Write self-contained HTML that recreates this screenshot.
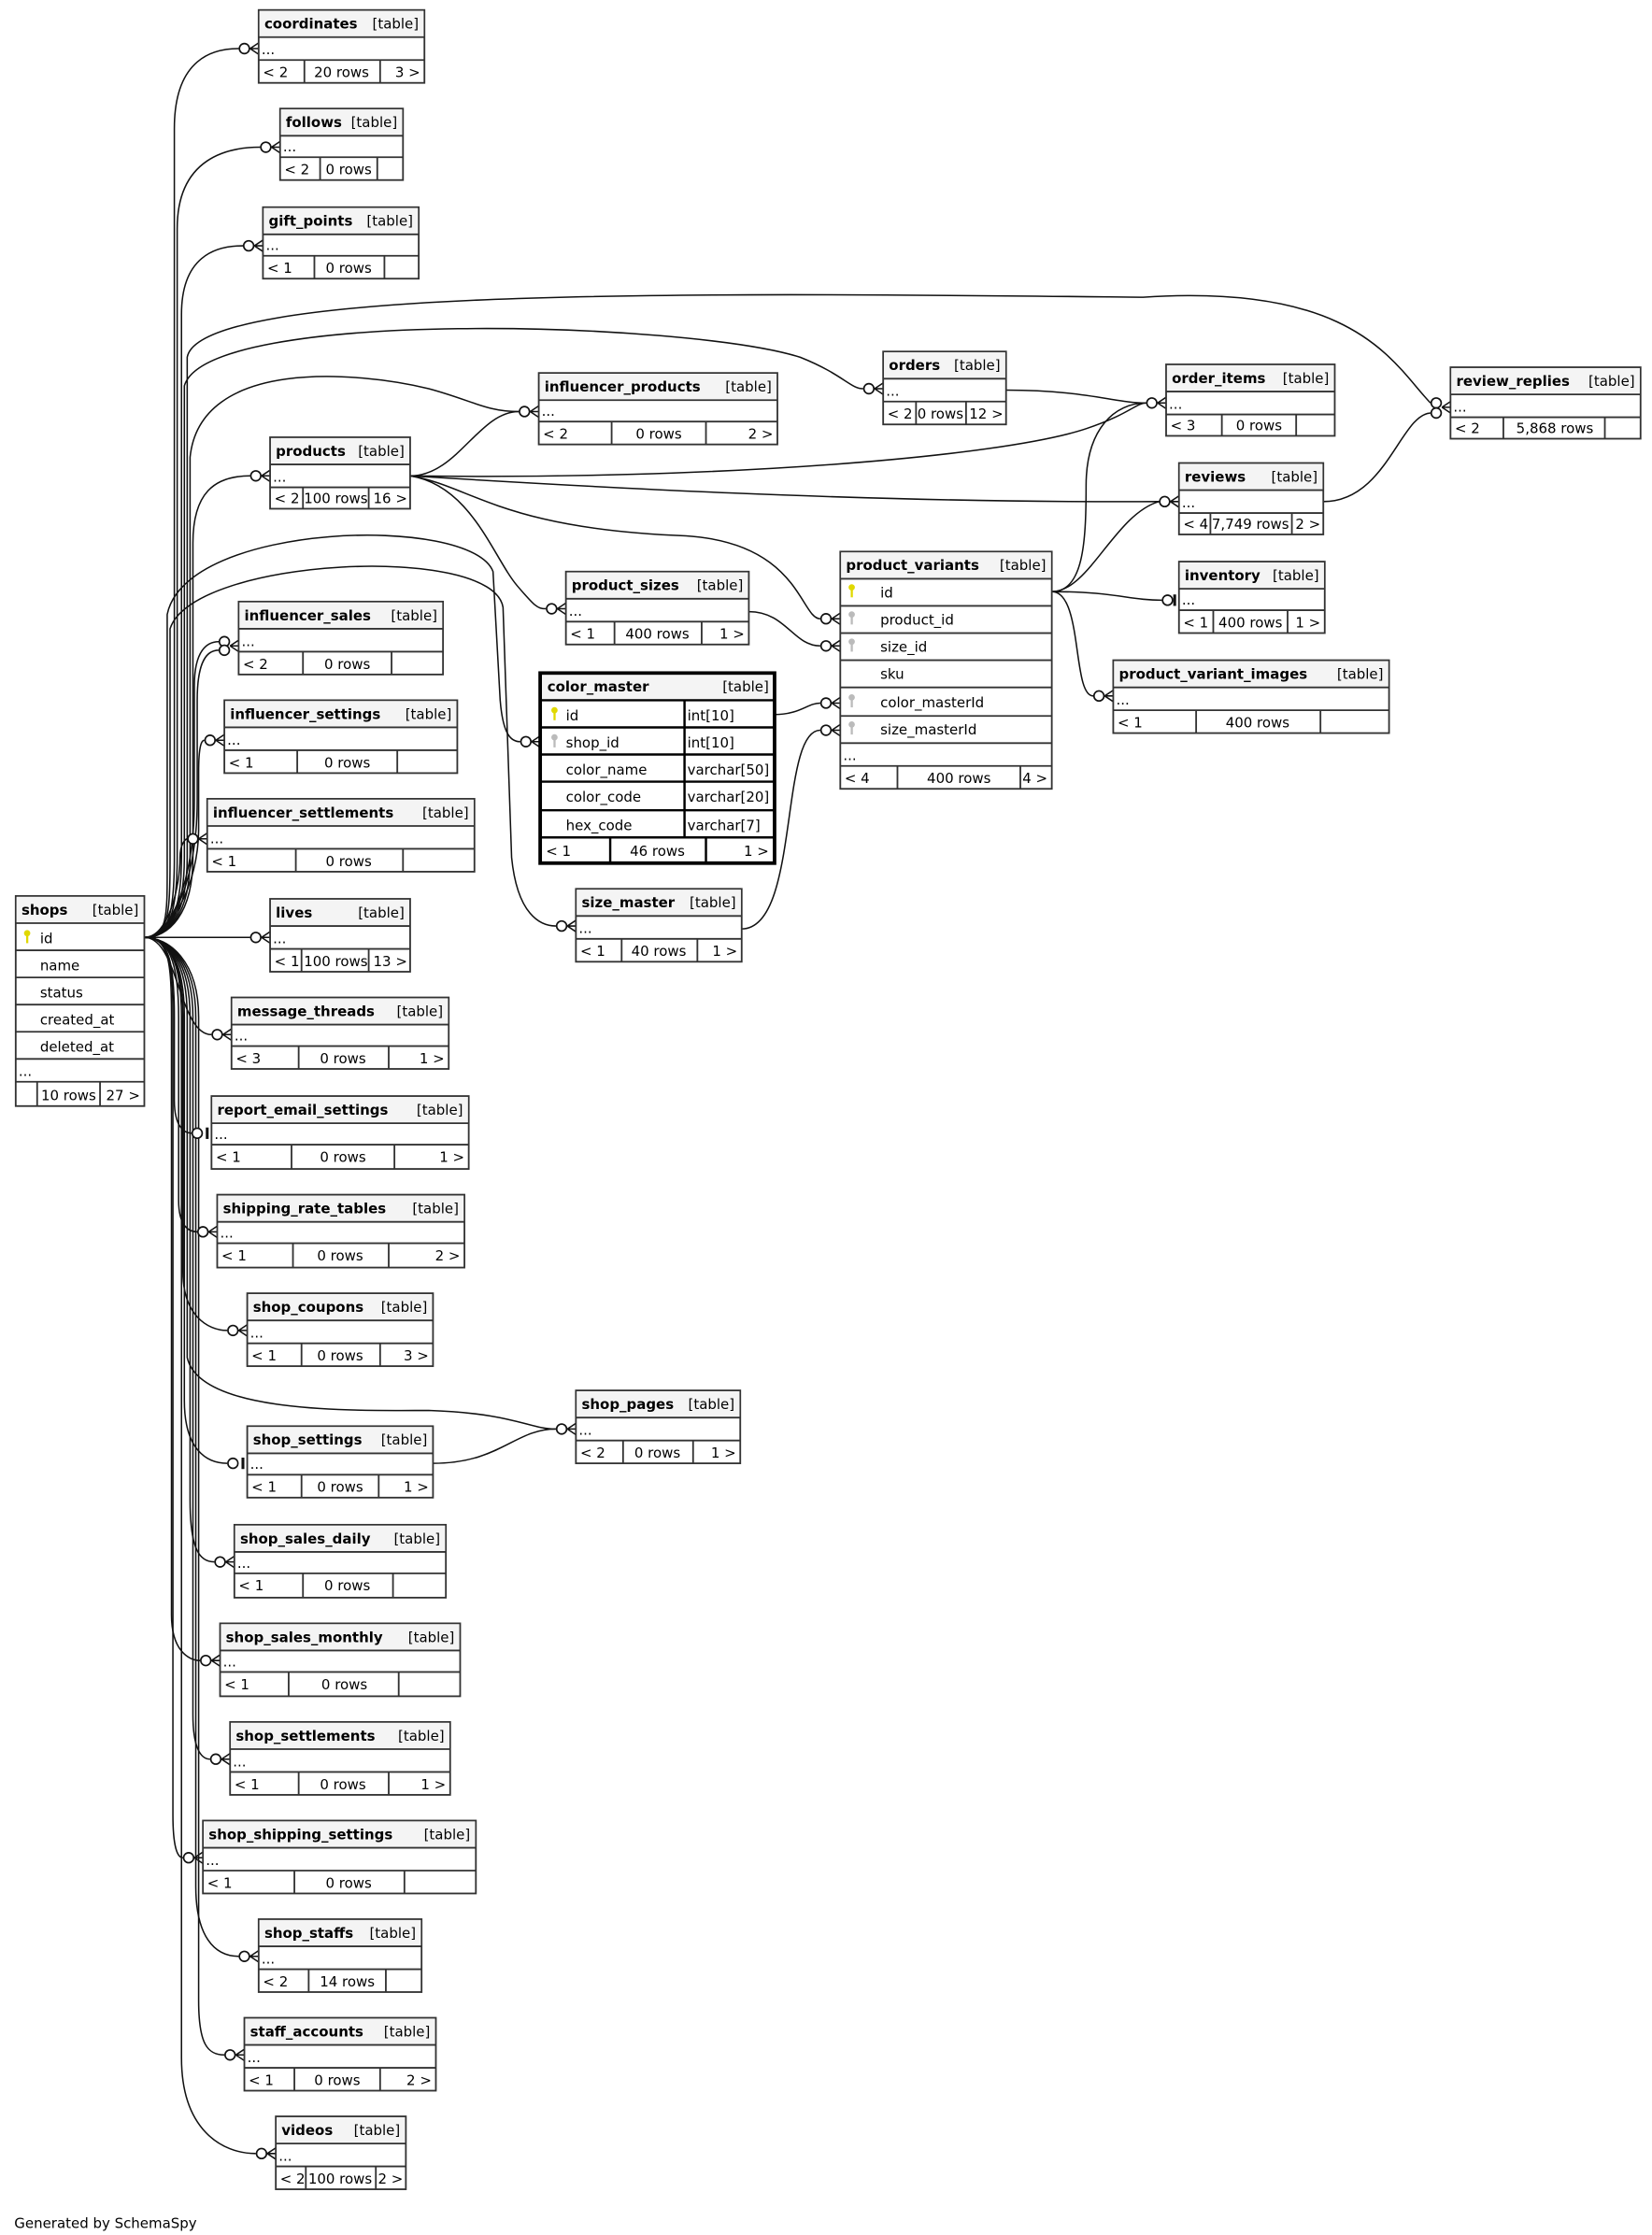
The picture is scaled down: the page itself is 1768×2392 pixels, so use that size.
<!DOCTYPE html>
<html><head><meta charset="utf-8"><style>
html,body{margin:0;padding:0;background:#fff;}
svg{display:block;}
text{font-family:"DejaVu Sans","Liberation Sans",sans-serif;font-size:9.8px;fill:#000;}
.h{font-weight:bold;}
.t{text-anchor:end;}
.m{text-anchor:middle;}
.b{fill:#fff;stroke:#333;stroke-width:1.2;}
.hd{fill:#f4f4f4;stroke:none;}
.l{stroke:#333;stroke-width:1.2;}
.e{fill:none;stroke:#111;stroke-width:1;}
.c{fill:#fff;stroke:#111;stroke-width:1.1;}
</style></head><body>
<svg width="1768" height="2392" viewBox="0 0 1156 1564" xmlns="http://www.w3.org/2000/svg">
<rect width="1156" height="1564" fill="#fff"/>
<g>
<path class="e" d="M101,656 C118,656 122,640 122,600 L122,90 C122,40 150,34 167,34"/>
<path class="e" d="M101,656 C118,656 124,640 124,600 L124,160 C124,110 160,103 182,103"/>
<path class="e" d="M101,656 C118,656 127,640 127,600 L127,220 C127,180 150,172 170,172"/>
<path class="e" d="M101,656 C118,656 131,640 131,600 L131,250 C140,200 500,205 800,208 C950,198 975,255 1001,282"/>
<path class="e" d="M101,656 C118,656 129,640 129,600 L129,270 C145,215 480,225 560,250 C590,262 595,272 604,272"/>
<path class="e" d="M101,656 C118,656 133,640 133,600 L133,320 C140,250 250,260 300,272 C330,280 340,288 363,288"/>
<path class="e" d="M101,656 C118,656 135,640 135,600 L135,380 C135,345 150,333 175,333"/>
<path class="e" d="M101,656 C118,656 117,640 117,600 L117,430 C130,365 330,360 345,400 L350,490 C352,515 358,519 364,519"/>
<path class="e" d="M101,656 C118,656 119,640 119,600 L119,440 C135,390 345,380 352,425 L358,600 C362,640 378,648 389,648"/>
<path class="e" d="M101,656 C118,656 136,620 136,560 L136,480 C136,455 145,449 153,449"/>
<path class="e" d="M101,656 C118,656 138,620 138,560 L138,490 C138,462 145,455 153,455"/>
<path class="e" d="M101,656 C118,656 139,620 139,580 L139,540 C139,522 141,518 143,518"/>
<path class="e" d="M101,656 C118,656 126,620 126,600 C126,590 130,587 131,587"/>
<path class="e" d="M101,656 L175,656"/>
<path class="e" d="M101,656 C125,656 125,724 148,724"/>
<path class="e" d="M101,656 C118,656 122,672 122,712 L122,770 C122,790 130,793 134,793"/>
<path class="e" d="M101,656 C118,656 125,672 125,712 L125,840 C125,858 132,862 138,862"/>
<path class="e" d="M101,656 C118,656 128,672 128,712 L128,890 C128,920 145,931 159,931"/>
<path class="e" d="M101,656 C118,656 131,672 131,712 L131,950 C140,990 250,987 300,987 C360,989 370,1000 389,1000"/>
<path class="e" d="M101,656 C118,656 129,672 129,712 L129,980 C129,1015 145,1024 159,1024"/>
<path class="e" d="M101,656 C118,656 133,672 133,712 L133,1050 C133,1085 140,1093 150,1093"/>
<path class="e" d="M101,656 C118,656 120,672 120,712 L120,1130 C120,1155 132,1162 140,1162"/>
<path class="e" d="M101,656 C118,656 135,672 135,712 L135,1200 C135,1222 140,1231 147,1231"/>
<path class="e" d="M101,656 C118,656 121,672 121,712 L121,1270 C121,1292 124,1300 128,1300"/>
<path class="e" d="M101,656 C118,656 137,672 137,712 L137,1320 C137,1355 150,1369 167,1369"/>
<path class="e" d="M101,656 C118,656 139,672 139,712 L139,1400 C139,1430 145,1438 157,1438"/>
<path class="e" d="M101,656 C118,656 127,672 127,712 L127,1440 C127,1490 155,1507 179,1507"/>
<path class="e" d="M287,333 C320,333 335,288 363,288"/>
<path class="e" d="M287,333 C500,336 700,320 760,300 C790,290 795,282 802,282"/>
<path class="e" d="M287,333 C400,340 600,352 811,351"/>
<path class="e" d="M287,333 C330,340 350,370 480,375 C560,380 560,433 574,433"/>
<path class="e" d="M287,333 C330,340 345,390 362,410 C374,424 376,426 382,426"/>
<path class="e" d="M524,428 C550,428 555,452 574,452"/>
<path class="e" d="M542,500 C560,500 565,492 574,492"/>
<path class="e" d="M519,650 C560,650 545,511 574,511"/>
<path class="e" d="M704,273 C760,273 780,282 802,282"/>
<path class="e" d="M736,414 C758,414 760,380 760,340 C760,300 780,282 802,282"/>
<path class="e" d="M736,414 C762,414 780,360 811,351"/>
<path class="e" d="M736,414 C780,414 790,420 813,420"/>
<path class="e" d="M736,414 C758,414 750,487 765,487"/>
<path class="e" d="M926,351 C970,351 980,290 1001,289"/>
<path class="e" d="M303,1024 C350,1024 360,1000 389,1000"/>
</g>
<g>
<circle class="c" cx="171" cy="34" r="3.5"/><path class="e" d="M175,34 L181,30 M175,34 L181,34 M175,34 L181,38"/>
<circle class="c" cx="186" cy="103" r="3.5"/><path class="e" d="M190,103 L196,99 M190,103 L196,103 M190,103 L196,107"/>
<circle class="c" cx="174" cy="172" r="3.5"/><path class="e" d="M178,172 L184,168 M178,172 L184,172 M178,172 L184,176"/>
<circle class="c" cx="608" cy="272" r="3.5"/><path class="e" d="M612,272 L618,268 M612,272 L618,272 M612,272 L618,276"/>
<circle class="c" cx="806" cy="282" r="3.5"/><path class="e" d="M810,282 L816,278 M810,282 L816,282 M810,282 L816,286"/>
<circle class="c" cx="1005" cy="282" r="3.5"/><circle class="c" cx="1005" cy="289" r="3.5"/><path class="e" d="M1009,285 L1015,281 M1009,285 L1015,285 M1009,285 L1015,289"/>
<circle class="c" cx="367" cy="288" r="3.5"/><path class="e" d="M371,288 L377,284 M371,288 L377,288 M371,288 L377,292"/>
<circle class="c" cx="179" cy="333" r="3.5"/><path class="e" d="M183,333 L189,329 M183,333 L189,333 M183,333 L189,337"/>
<circle class="c" cx="815" cy="351" r="3.5"/><path class="e" d="M819,351 L825,347 M819,351 L825,351 M819,351 L825,355"/>
<circle class="c" cx="578" cy="433" r="3.5"/><path class="e" d="M582,433 L588,429 M582,433 L588,433 M582,433 L588,437"/>
<circle class="c" cx="578" cy="452" r="3.5"/><path class="e" d="M582,452 L588,448 M582,452 L588,452 M582,452 L588,456"/>
<circle class="c" cx="578" cy="492" r="3.5"/><path class="e" d="M582,492 L588,488 M582,492 L588,492 M582,492 L588,496"/>
<circle class="c" cx="578" cy="511" r="3.5"/><path class="e" d="M582,511 L588,507 M582,511 L588,511 M582,511 L588,515"/>
<circle class="c" cx="386" cy="426" r="3.5"/><path class="e" d="M390,426 L396,422 M390,426 L396,426 M390,426 L396,430"/>
<circle class="c" cx="817" cy="420" r="3.5"/><path class="e" d="M822,416 L822,424" style="stroke-width:2"/>
<circle class="c" cx="769" cy="487" r="3.5"/><path class="e" d="M773,487 L779,483 M773,487 L779,487 M773,487 L779,491"/>
<circle class="c" cx="368" cy="519" r="3.5"/><path class="e" d="M372,519 L378,515 M372,519 L378,519 M372,519 L378,523"/>
<circle class="c" cx="157" cy="449" r="3.5"/><circle class="c" cx="157" cy="455" r="3.5"/><path class="e" d="M161,452 L167,448 M161,452 L167,452 M161,452 L167,456"/>
<circle class="c" cx="147" cy="518" r="3.5"/><path class="e" d="M151,518 L157,514 M151,518 L157,518 M151,518 L157,522"/>
<circle class="c" cx="135" cy="587" r="3.5"/><path class="e" d="M139,587 L145,583 M139,587 L145,587 M139,587 L145,591"/>
<circle class="c" cx="393" cy="648" r="3.5"/><path class="e" d="M397,648 L403,644 M397,648 L403,648 M397,648 L403,652"/>
<circle class="c" cx="179" cy="656" r="3.5"/><path class="e" d="M183,656 L189,652 M183,656 L189,656 M183,656 L189,660"/>
<circle class="c" cx="152" cy="724" r="3.5"/><path class="e" d="M156,724 L162,720 M156,724 L162,724 M156,724 L162,728"/>
<circle class="c" cx="138" cy="793" r="3.5"/><path class="e" d="M145,789 L145,797" style="stroke-width:2"/>
<circle class="c" cx="142" cy="862" r="3.5"/><path class="e" d="M146,862 L152,858 M146,862 L152,862 M146,862 L152,866"/>
<circle class="c" cx="163" cy="931" r="3.5"/><path class="e" d="M167,931 L173,927 M167,931 L173,931 M167,931 L173,935"/>
<circle class="c" cx="393" cy="1000" r="3.5"/><path class="e" d="M397,1000 L403,996 M397,1000 L403,1000 M397,1000 L403,1004"/>
<circle class="c" cx="163" cy="1024" r="3.5"/><path class="e" d="M170,1020 L170,1028" style="stroke-width:2"/>
<circle class="c" cx="154" cy="1093" r="3.5"/><path class="e" d="M158,1093 L164,1089 M158,1093 L164,1093 M158,1093 L164,1097"/>
<circle class="c" cx="144" cy="1162" r="3.5"/><path class="e" d="M148,1162 L154,1158 M148,1162 L154,1162 M148,1162 L154,1166"/>
<circle class="c" cx="151" cy="1231" r="3.5"/><path class="e" d="M155,1231 L161,1227 M155,1231 L161,1231 M155,1231 L161,1235"/>
<circle class="c" cx="132" cy="1300" r="3.5"/><path class="e" d="M136,1300 L142,1296 M136,1300 L142,1300 M136,1300 L142,1304"/>
<circle class="c" cx="171" cy="1369" r="3.5"/><path class="e" d="M175,1369 L181,1365 M175,1369 L181,1369 M175,1369 L181,1373"/>
<circle class="c" cx="161" cy="1438" r="3.5"/><path class="e" d="M165,1438 L171,1434 M165,1438 L171,1438 M165,1438 L171,1442"/>
<circle class="c" cx="183" cy="1507" r="3.5"/><path class="e" d="M187,1507 L193,1503 M187,1507 L193,1507 M187,1507 L193,1511"/>
</g>

<g><rect class="b" x="181" y="7" width="116" height="51"/><rect class="hd" x="181.6" y="7.6" width="114.8" height="18.4"/><line class="l" x1="181" y1="26" x2="297" y2="26"/><line class="l" x1="181" y1="42" x2="297" y2="42"/><line class="l" x1="213" y1="42" x2="213" y2="58"/><line class="l" x1="266" y1="42" x2="266" y2="58"/>
<text class="h" x="185" y="20">coordinates</text><text class="t" x="293" y="20">[table]</text><text x="183" y="38">...</text><text x="184" y="54">&lt; 2</text><text class="m" x="239" y="54">20 rows</text><text class="t" x="294" y="54">3 &gt;</text></g>
<g><rect class="b" x="196" y="76" width="86" height="50"/><rect class="hd" x="196.6" y="76.6" width="84.8" height="18.4"/><line class="l" x1="196" y1="95" x2="282" y2="95"/><line class="l" x1="196" y1="110" x2="282" y2="110"/><line class="l" x1="224" y1="110" x2="224" y2="126"/><line class="l" x1="264" y1="110" x2="264" y2="126"/>
<text class="h" x="200" y="89">follows</text><text class="t" x="278" y="89">[table]</text><text x="198" y="106">...</text><text x="199" y="122">&lt; 2</text><text class="m" x="244" y="122">0 rows</text></g>
<g><rect class="b" x="184" y="145" width="109" height="50"/><rect class="hd" x="184.6" y="145.6" width="107.8" height="18.4"/><line class="l" x1="184" y1="164" x2="293" y2="164"/><line class="l" x1="184" y1="179" x2="293" y2="179"/><line class="l" x1="220" y1="179" x2="220" y2="195"/><line class="l" x1="269" y1="179" x2="269" y2="195"/>
<text class="h" x="188" y="158">gift_points</text><text class="t" x="289" y="158">[table]</text><text x="186" y="175">...</text><text x="187" y="191">&lt; 1</text><text class="m" x="244" y="191">0 rows</text></g>
<g><rect class="b" x="618" y="246" width="86" height="51"/><rect class="hd" x="618.6" y="246.6" width="84.8" height="18.4"/><line class="l" x1="618" y1="265" x2="704" y2="265"/><line class="l" x1="618" y1="281" x2="704" y2="281"/><line class="l" x1="641" y1="281" x2="641" y2="297"/><line class="l" x1="676" y1="281" x2="676" y2="297"/>
<text class="h" x="622" y="259">orders</text><text class="t" x="700" y="259">[table]</text><text x="620" y="277">...</text><text x="621" y="293">&lt; 2</text><text class="m" x="658" y="293">0 rows</text><text class="t" x="702" y="293">12 &gt;</text></g>
<g><rect class="b" x="816" y="255" width="118" height="50"/><rect class="hd" x="816.6" y="255.6" width="116.8" height="18.4"/><line class="l" x1="816" y1="274" x2="934" y2="274"/><line class="l" x1="816" y1="290" x2="934" y2="290"/><line class="l" x1="855" y1="290" x2="855" y2="305"/><line class="l" x1="907" y1="290" x2="907" y2="305"/>
<text class="h" x="820" y="268">order_items</text><text class="t" x="930" y="268">[table]</text><text x="818" y="286">...</text><text x="819" y="301">&lt; 3</text><text class="m" x="881" y="301">0 rows</text></g>
<g><rect class="b" x="1015" y="257" width="133" height="50"/><rect class="hd" x="1015.6" y="257.6" width="131.8" height="18.4"/><line class="l" x1="1015" y1="276" x2="1148" y2="276"/><line class="l" x1="1015" y1="292" x2="1148" y2="292"/><line class="l" x1="1052" y1="292" x2="1052" y2="307"/><line class="l" x1="1123" y1="292" x2="1123" y2="307"/>
<text class="h" x="1019" y="270">review_replies</text><text class="t" x="1144" y="270">[table]</text><text x="1017" y="288">...</text><text x="1018" y="303">&lt; 2</text><text class="m" x="1088" y="303">5,868 rows</text></g>
<g><rect class="b" x="377" y="261" width="167" height="50"/><rect class="hd" x="377.6" y="261.6" width="165.8" height="18.4"/><line class="l" x1="377" y1="280" x2="544" y2="280"/><line class="l" x1="377" y1="295" x2="544" y2="295"/><line class="l" x1="428" y1="295" x2="428" y2="311"/><line class="l" x1="494" y1="295" x2="494" y2="311"/>
<text class="h" x="381" y="274">influencer_products</text><text class="t" x="540" y="274">[table]</text><text x="379" y="291">...</text><text x="380" y="307">&lt; 2</text><text class="m" x="461" y="307">0 rows</text><text class="t" x="541" y="307">2 &gt;</text></g>
<g><rect class="b" x="189" y="306" width="98" height="50"/><rect class="hd" x="189.6" y="306.6" width="96.8" height="18.4"/><line class="l" x1="189" y1="325" x2="287" y2="325"/><line class="l" x1="189" y1="341" x2="287" y2="341"/><line class="l" x1="212" y1="341" x2="212" y2="356"/><line class="l" x1="258" y1="341" x2="258" y2="356"/>
<text class="h" x="193" y="319">products</text><text class="t" x="283" y="319">[table]</text><text x="191" y="337">...</text><text x="192" y="352">&lt; 2</text><text class="m" x="235" y="352">100 rows</text><text class="t" x="285" y="352">16 &gt;</text></g>
<g><rect class="b" x="825" y="324" width="101" height="50"/><rect class="hd" x="825.6" y="324.6" width="99.8" height="18.4"/><line class="l" x1="825" y1="343" x2="926" y2="343"/><line class="l" x1="825" y1="359" x2="926" y2="359"/><line class="l" x1="847" y1="359" x2="847" y2="374"/><line class="l" x1="904" y1="359" x2="904" y2="374"/>
<text class="h" x="829" y="337">reviews</text><text class="t" x="922" y="337">[table]</text><text x="827" y="355">...</text><text x="828" y="370">&lt; 4</text><text class="m" x="875" y="370">7,749 rows</text><text class="t" x="924" y="370">2 &gt;</text></g>
<g><rect class="b" x="825" y="393" width="102" height="50"/><rect class="hd" x="825.6" y="393.6" width="100.8" height="18.4"/><line class="l" x1="825" y1="412" x2="927" y2="412"/><line class="l" x1="825" y1="427" x2="927" y2="427"/><line class="l" x1="849" y1="427" x2="849" y2="443"/><line class="l" x1="901" y1="427" x2="901" y2="443"/>
<text class="h" x="829" y="406">inventory</text><text class="t" x="923" y="406">[table]</text><text x="827" y="423">...</text><text x="828" y="439">&lt; 1</text><text class="m" x="875" y="439">400 rows</text><text class="t" x="924" y="439">1 &gt;</text></g>
<g><rect class="b" x="396" y="400" width="128" height="51"/><rect class="hd" x="396.6" y="400.6" width="126.8" height="18.4"/><line class="l" x1="396" y1="419" x2="524" y2="419"/><line class="l" x1="396" y1="435" x2="524" y2="435"/><line class="l" x1="430" y1="435" x2="430" y2="451"/><line class="l" x1="491" y1="435" x2="491" y2="451"/>
<text class="h" x="400" y="413">product_sizes</text><text class="t" x="520" y="413">[table]</text><text x="398" y="431">...</text><text x="399" y="447">&lt; 1</text><text class="m" x="460" y="447">400 rows</text><text class="t" x="521" y="447">1 &gt;</text></g>
<g><rect class="b" x="779" y="462" width="193" height="51"/><rect class="hd" x="779.6" y="462.6" width="191.8" height="18.4"/><line class="l" x1="779" y1="481" x2="972" y2="481"/><line class="l" x1="779" y1="497" x2="972" y2="497"/><line class="l" x1="837" y1="497" x2="837" y2="513"/><line class="l" x1="924" y1="497" x2="924" y2="513"/>
<text class="h" x="783" y="475">product_variant_images</text><text class="t" x="968" y="475">[table]</text><text x="781" y="493">...</text><text x="782" y="509">&lt; 1</text><text class="m" x="880" y="509">400 rows</text></g>
<g><rect class="b" x="167" y="421" width="143" height="51"/><rect class="hd" x="167.6" y="421.6" width="141.8" height="18.4"/><line class="l" x1="167" y1="440" x2="310" y2="440"/><line class="l" x1="167" y1="456" x2="310" y2="456"/><line class="l" x1="212" y1="456" x2="212" y2="472"/><line class="l" x1="274" y1="456" x2="274" y2="472"/>
<text class="h" x="171" y="434">influencer_sales</text><text class="t" x="306" y="434">[table]</text><text x="169" y="452">...</text><text x="170" y="468">&lt; 2</text><text class="m" x="243" y="468">0 rows</text></g>
<g><rect class="b" x="157" y="490" width="163" height="51"/><rect class="hd" x="157.6" y="490.6" width="161.8" height="18.4"/><line class="l" x1="157" y1="509" x2="320" y2="509"/><line class="l" x1="157" y1="525" x2="320" y2="525"/><line class="l" x1="208" y1="525" x2="208" y2="541"/><line class="l" x1="278" y1="525" x2="278" y2="541"/>
<text class="h" x="161" y="503">influencer_settings</text><text class="t" x="316" y="503">[table]</text><text x="159" y="521">...</text><text x="160" y="537">&lt; 1</text><text class="m" x="243" y="537">0 rows</text></g>
<g><rect class="b" x="145" y="559" width="187" height="51"/><rect class="hd" x="145.6" y="559.6" width="185.8" height="18.4"/><line class="l" x1="145" y1="578" x2="332" y2="578"/><line class="l" x1="145" y1="594" x2="332" y2="594"/><line class="l" x1="207" y1="594" x2="207" y2="610"/><line class="l" x1="282" y1="594" x2="282" y2="610"/>
<text class="h" x="149" y="572">influencer_settlements</text><text class="t" x="328" y="572">[table]</text><text x="147" y="590">...</text><text x="148" y="606">&lt; 1</text><text class="m" x="244" y="606">0 rows</text></g>
<g><rect class="b" x="403" y="622" width="116" height="51"/><rect class="hd" x="403.6" y="622.6" width="114.8" height="18.4"/><line class="l" x1="403" y1="641" x2="519" y2="641"/><line class="l" x1="403" y1="657" x2="519" y2="657"/><line class="l" x1="435" y1="657" x2="435" y2="673"/><line class="l" x1="488" y1="657" x2="488" y2="673"/>
<text class="h" x="407" y="635">size_master</text><text class="t" x="515" y="635">[table]</text><text x="405" y="653">...</text><text x="406" y="669">&lt; 1</text><text class="m" x="461" y="669">40 rows</text><text class="t" x="516" y="669">1 &gt;</text></g>
<g><rect class="b" x="189" y="629" width="98" height="51"/><rect class="hd" x="189.6" y="629.6" width="96.8" height="18.4"/><line class="l" x1="189" y1="648" x2="287" y2="648"/><line class="l" x1="189" y1="664" x2="287" y2="664"/><line class="l" x1="211" y1="664" x2="211" y2="680"/><line class="l" x1="258" y1="664" x2="258" y2="680"/>
<text class="h" x="193" y="642">lives</text><text class="t" x="283" y="642">[table]</text><text x="191" y="660">...</text><text x="192" y="676">&lt; 1</text><text class="m" x="235" y="676">100 rows</text><text class="t" x="285" y="676">13 &gt;</text></g>
<g><rect class="b" x="162" y="698" width="152" height="50"/><rect class="hd" x="162.6" y="698.6" width="150.8" height="18.4"/><line class="l" x1="162" y1="717" x2="314" y2="717"/><line class="l" x1="162" y1="732" x2="314" y2="732"/><line class="l" x1="209" y1="732" x2="209" y2="748"/><line class="l" x1="272" y1="732" x2="272" y2="748"/>
<text class="h" x="166" y="711">message_threads</text><text class="t" x="310" y="711">[table]</text><text x="164" y="728">...</text><text x="165" y="744">&lt; 3</text><text class="m" x="240" y="744">0 rows</text><text class="t" x="311" y="744">1 &gt;</text></g>
<g><rect class="b" x="148" y="767" width="180" height="51"/><rect class="hd" x="148.6" y="767.6" width="178.8" height="18.4"/><line class="l" x1="148" y1="786" x2="328" y2="786"/><line class="l" x1="148" y1="801" x2="328" y2="801"/><line class="l" x1="204" y1="801" x2="204" y2="818"/><line class="l" x1="276" y1="801" x2="276" y2="818"/>
<text class="h" x="152" y="780">report_email_settings</text><text class="t" x="324" y="780">[table]</text><text x="150" y="797">...</text><text x="151" y="813">&lt; 1</text><text class="m" x="240" y="813">0 rows</text><text class="t" x="325" y="813">1 &gt;</text></g>
<g><rect class="b" x="152" y="836" width="173" height="51"/><rect class="hd" x="152.6" y="836.6" width="171.8" height="18.4"/><line class="l" x1="152" y1="855" x2="325" y2="855"/><line class="l" x1="152" y1="870" x2="325" y2="870"/><line class="l" x1="205" y1="870" x2="205" y2="887"/><line class="l" x1="272" y1="870" x2="272" y2="887"/>
<text class="h" x="156" y="849">shipping_rate_tables</text><text class="t" x="321" y="849">[table]</text><text x="154" y="866">...</text><text x="155" y="882">&lt; 1</text><text class="m" x="238" y="882">0 rows</text><text class="t" x="322" y="882">2 &gt;</text></g>
<g><rect class="b" x="173" y="905" width="130" height="51"/><rect class="hd" x="173.6" y="905.6" width="128.8" height="18.4"/><line class="l" x1="173" y1="924" x2="303" y2="924"/><line class="l" x1="173" y1="940" x2="303" y2="940"/><line class="l" x1="211" y1="940" x2="211" y2="956"/><line class="l" x1="266" y1="940" x2="266" y2="956"/>
<text class="h" x="177" y="918">shop_coupons</text><text class="t" x="299" y="918">[table]</text><text x="175" y="936">...</text><text x="176" y="952">&lt; 1</text><text class="m" x="238" y="952">0 rows</text><text class="t" x="300" y="952">3 &gt;</text></g>
<g><rect class="b" x="403" y="973" width="115" height="51"/><rect class="hd" x="403.6" y="973.6" width="113.8" height="18.4"/><line class="l" x1="403" y1="992" x2="518" y2="992"/><line class="l" x1="403" y1="1008" x2="518" y2="1008"/><line class="l" x1="436" y1="1008" x2="436" y2="1024"/><line class="l" x1="485" y1="1008" x2="485" y2="1024"/>
<text class="h" x="407" y="986">shop_pages</text><text class="t" x="514" y="986">[table]</text><text x="405" y="1004">...</text><text x="406" y="1020">&lt; 2</text><text class="m" x="460" y="1020">0 rows</text><text class="t" x="515" y="1020">1 &gt;</text></g>
<g><rect class="b" x="173" y="998" width="130" height="50"/><rect class="hd" x="173.6" y="998.6" width="128.8" height="18.4"/><line class="l" x1="173" y1="1017" x2="303" y2="1017"/><line class="l" x1="173" y1="1032" x2="303" y2="1032"/><line class="l" x1="211" y1="1032" x2="211" y2="1048"/><line class="l" x1="265" y1="1032" x2="265" y2="1048"/>
<text class="h" x="177" y="1011">shop_settings</text><text class="t" x="299" y="1011">[table]</text><text x="175" y="1028">...</text><text x="176" y="1044">&lt; 1</text><text class="m" x="238" y="1044">0 rows</text><text class="t" x="300" y="1044">1 &gt;</text></g>
<g><rect class="b" x="164" y="1067" width="148" height="51"/><rect class="hd" x="164.6" y="1067.6" width="146.8" height="18.4"/><line class="l" x1="164" y1="1086" x2="312" y2="1086"/><line class="l" x1="164" y1="1101" x2="312" y2="1101"/><line class="l" x1="212" y1="1101" x2="212" y2="1118"/><line class="l" x1="275" y1="1101" x2="275" y2="1118"/>
<text class="h" x="168" y="1080">shop_sales_daily</text><text class="t" x="308" y="1080">[table]</text><text x="166" y="1097">...</text><text x="167" y="1113">&lt; 1</text><text class="m" x="243" y="1113">0 rows</text></g>
<g><rect class="b" x="154" y="1136" width="168" height="51"/><rect class="hd" x="154.6" y="1136.6" width="166.8" height="18.4"/><line class="l" x1="154" y1="1155" x2="322" y2="1155"/><line class="l" x1="154" y1="1170" x2="322" y2="1170"/><line class="l" x1="202" y1="1170" x2="202" y2="1187"/><line class="l" x1="279" y1="1170" x2="279" y2="1187"/>
<text class="h" x="158" y="1149">shop_sales_monthly</text><text class="t" x="318" y="1149">[table]</text><text x="156" y="1166">...</text><text x="157" y="1182">&lt; 1</text><text class="m" x="241" y="1182">0 rows</text></g>
<g><rect class="b" x="161" y="1205" width="154" height="51"/><rect class="hd" x="161.6" y="1205.6" width="152.8" height="18.4"/><line class="l" x1="161" y1="1224" x2="315" y2="1224"/><line class="l" x1="161" y1="1240" x2="315" y2="1240"/><line class="l" x1="209" y1="1240" x2="209" y2="1256"/><line class="l" x1="272" y1="1240" x2="272" y2="1256"/>
<text class="h" x="165" y="1218">shop_settlements</text><text class="t" x="311" y="1218">[table]</text><text x="163" y="1236">...</text><text x="164" y="1252">&lt; 1</text><text class="m" x="240" y="1252">0 rows</text><text class="t" x="312" y="1252">1 &gt;</text></g>
<g><rect class="b" x="142" y="1274" width="191" height="51"/><rect class="hd" x="142.6" y="1274.6" width="189.8" height="18.4"/><line class="l" x1="142" y1="1293" x2="333" y2="1293"/><line class="l" x1="142" y1="1309" x2="333" y2="1309"/><line class="l" x1="206" y1="1309" x2="206" y2="1325"/><line class="l" x1="283" y1="1309" x2="283" y2="1325"/>
<text class="h" x="146" y="1287">shop_shipping_settings</text><text class="t" x="329" y="1287">[table]</text><text x="144" y="1305">...</text><text x="145" y="1321">&lt; 1</text><text class="m" x="244" y="1321">0 rows</text></g>
<g><rect class="b" x="181" y="1343" width="114" height="51"/><rect class="hd" x="181.6" y="1343.6" width="112.8" height="18.4"/><line class="l" x1="181" y1="1362" x2="295" y2="1362"/><line class="l" x1="181" y1="1378" x2="295" y2="1378"/><line class="l" x1="216" y1="1378" x2="216" y2="1394"/><line class="l" x1="270" y1="1378" x2="270" y2="1394"/>
<text class="h" x="185" y="1356">shop_staffs</text><text class="t" x="291" y="1356">[table]</text><text x="183" y="1374">...</text><text x="184" y="1390">&lt; 2</text><text class="m" x="243" y="1390">14 rows</text></g>
<g><rect class="b" x="171" y="1412" width="134" height="51"/><rect class="hd" x="171.6" y="1412.6" width="132.8" height="18.4"/><line class="l" x1="171" y1="1431" x2="305" y2="1431"/><line class="l" x1="171" y1="1447" x2="305" y2="1447"/><line class="l" x1="206" y1="1447" x2="206" y2="1463"/><line class="l" x1="266" y1="1447" x2="266" y2="1463"/>
<text class="h" x="175" y="1425">staff_accounts</text><text class="t" x="301" y="1425">[table]</text><text x="173" y="1443">...</text><text x="174" y="1459">&lt; 1</text><text class="m" x="236" y="1459">0 rows</text><text class="t" x="302" y="1459">2 &gt;</text></g>
<g><rect class="b" x="193" y="1481" width="91" height="51"/><rect class="hd" x="193.6" y="1481.6" width="89.8" height="18.4"/><line class="l" x1="193" y1="1500" x2="284" y2="1500"/><line class="l" x1="193" y1="1516" x2="284" y2="1516"/><line class="l" x1="214" y1="1516" x2="214" y2="1532"/><line class="l" x1="263" y1="1516" x2="263" y2="1532"/>
<text class="h" x="197" y="1494">videos</text><text class="t" x="280" y="1494">[table]</text><text x="195" y="1512">...</text><text x="196" y="1528">&lt; 2</text><text class="m" x="238" y="1528">100 rows</text><text class="t" x="282" y="1528">2 &gt;</text></g>

<g><rect class="b" x="588" y="386" width="148" height="166"/><rect class="hd" x="588.6" y="386.6" width="146.8" height="18.4"/>
<line class="l" x1="588" y1="405" x2="736" y2="405"/><line class="l" x1="588" y1="424" x2="736" y2="424"/><line class="l" x1="588" y1="443" x2="736" y2="443"/><line class="l" x1="588" y1="462" x2="736" y2="462"/><line class="l" x1="588" y1="481" x2="736" y2="481"/><line class="l" x1="588" y1="501" x2="736" y2="501"/><line class="l" x1="588" y1="520" x2="736" y2="520"/><line class="l" x1="588" y1="536" x2="736" y2="536"/><line class="l" x1="628" y1="536" x2="628" y2="552"/><line class="l" x1="714" y1="536" x2="714" y2="552"/>
<text class="h" x="592" y="399">product_variants</text><text class="t" x="732" y="399">[table]</text>
<text x="616" y="418">id</text><text x="616" y="437">product_id</text><text x="616" y="456">size_id</text><text x="616" y="475">sku</text><text x="616" y="495">color_masterId</text><text x="616" y="514">size_masterId</text><text x="590" y="532">...</text>
<text x="591" y="548">&lt; 4</text><text class="m" x="671" y="548">400 rows</text><text class="t" x="733" y="548">4 &gt;</text>
<g fill="#e0d800"><circle cx="596" cy="411" r="2.2"/><rect x="595.3" y="411" width="1.5" height="7"/></g>
<g fill="#bbb"><circle cx="596" cy="430" r="2.2"/><rect x="595.3" y="430" width="1.5" height="7"/><circle cx="596" cy="449" r="2.2"/><rect x="595.3" y="449" width="1.5" height="7"/><circle cx="596" cy="488" r="2.2"/><rect x="595.3" y="488" width="1.5" height="7"/><circle cx="596" cy="507" r="2.2"/><rect x="595.3" y="507" width="1.5" height="7"/></g>
</g>

<g><rect x="378" y="471" width="164" height="133" fill="#fff" stroke="#000" stroke-width="2.5"/><rect class="hd" x="379.3" y="472.3" width="161.4" height="17.7"/>
<line x1="378" y1="490" x2="542" y2="490" stroke="#000" stroke-width="1.6"/><line x1="378" y1="509" x2="542" y2="509" stroke="#000" stroke-width="1.6"/><line x1="378" y1="528" x2="542" y2="528" stroke="#000" stroke-width="1.6"/><line x1="378" y1="547" x2="542" y2="547" stroke="#000" stroke-width="1.6"/><line x1="378" y1="567" x2="542" y2="567" stroke="#000" stroke-width="1.6"/><line x1="378" y1="586" x2="542" y2="586" stroke="#000" stroke-width="1.6"/>
<line x1="479" y1="490" x2="479" y2="586" stroke="#000" stroke-width="1.6"/><line x1="427" y1="586" x2="427" y2="604" stroke="#000" stroke-width="1.6"/><line x1="494" y1="586" x2="494" y2="604" stroke="#000" stroke-width="1.6"/>
<text class="h" x="383" y="484">color_master</text><text class="t" x="538" y="484">[table]</text>
<text x="396" y="504">id</text><text x="481" y="504">int[10]</text>
<text x="396" y="523">shop_id</text><text x="481" y="523">int[10]</text>
<text x="396" y="542">color_name</text><text x="481" y="542">varchar[50]</text>
<text x="396" y="561">color_code</text><text x="481" y="561">varchar[20]</text>
<text x="396" y="581">hex_code</text><text x="481" y="581">varchar[7]</text>
<text x="382" y="599">&lt; 1</text><text class="m" x="460" y="599">46 rows</text><text class="t" x="538" y="599">1 &gt;</text>
<g fill="#e0d800"><circle cx="388" cy="497" r="2.2"/><rect x="387.3" y="497" width="1.5" height="7"/></g>
<g fill="#bbb"><circle cx="388" cy="516" r="2.2"/><rect x="387.3" y="516" width="1.5" height="7"/></g>
</g>

<g><rect class="b" x="11" y="627" width="90" height="147"/><rect class="hd" x="11.6" y="627.6" width="88.8" height="18.4"/>
<line class="l" x1="11" y1="646" x2="101" y2="646"/><line class="l" x1="11" y1="665" x2="101" y2="665"/><line class="l" x1="11" y1="684" x2="101" y2="684"/><line class="l" x1="11" y1="703" x2="101" y2="703"/><line class="l" x1="11" y1="722" x2="101" y2="722"/><line class="l" x1="11" y1="741" x2="101" y2="741"/><line class="l" x1="11" y1="757" x2="101" y2="757"/><line class="l" x1="26" y1="757" x2="26" y2="774"/><line class="l" x1="70" y1="757" x2="70" y2="774"/>
<text class="h" x="15" y="640">shops</text><text class="t" x="97" y="640">[table]</text>
<text x="28" y="660">id</text><text x="28" y="679">name</text><text x="28" y="698">status</text><text x="28" y="717">created_at</text><text x="28" y="736">deleted_at</text><text x="13" y="753">...</text>
<text class="m" x="48" y="770">10 rows</text><text class="t" x="98" y="770">27 &gt;</text>
<g fill="#e0d800"><circle cx="19" cy="653" r="2.2"/><rect x="18.3" y="653" width="1.5" height="7"/></g>
</g>

<text x="10" y="1559">Generated by SchemaSpy</text>
</svg>
</body></html>
